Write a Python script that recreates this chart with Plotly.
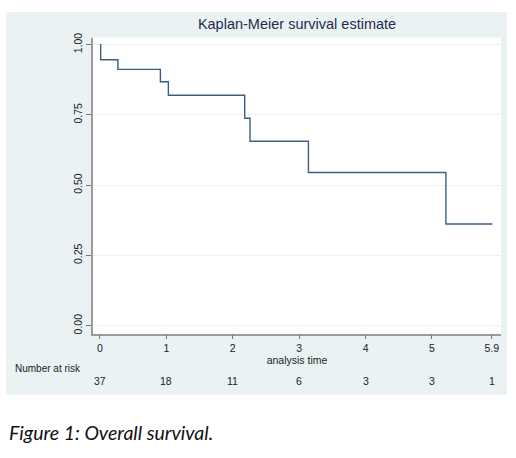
import plotly.graph_objects as go

# Kaplan-Meier step points (time, survival)
times = [0, 0.01, 0.27, 0.91, 1.03, 2.18, 2.26, 3.14, 5.21, 5.91]
surv = [1.0, 0.946, 0.912, 0.868, 0.820, 0.738, 0.656, 0.545, 0.362, 0.362]

x_ticks = [0, 1, 2, 3, 4, 5, 5.9]
x_labels = ["0", "1", "2", "3", "4", "5", "5.9"]
y_ticks = [0, 0.25, 0.5, 0.75, 1.0]
y_labels = ["0.00", "0.25", "0.50", "0.75", "1.00"]

risk_times = [0, 1, 2, 3, 4, 5, 5.9]
at_risk = [37, 18, 11, 6, 3, 3, 1]

W, H = 516, 458
bg = "#eaf2f3"
font = "Liberation Sans"
xdom = [93/W, 501/W]
ydom = [1-333/H, 1-33/H]

fig = go.Figure()
fig.add_trace(go.Scatter(x=times, y=surv, mode="lines", line_shape="hv",
                         line=dict(color="#3a5f82", width=1.4), showlegend=False))

# stata-style grey-blue panel behind the graph, white plot region on top of it
fig.add_shape(type="rect", xref="paper", yref="paper", x0=6/W, x1=507/W,
              y0=1-395/H, y1=1-7/H, fillcolor=bg, line_width=0, layer="below")
fig.add_shape(type="rect", xref="paper", yref="paper", x0=xdom[0], x1=xdom[1],
              y0=ydom[0], y1=ydom[1], fillcolor="white", line_width=0, layer="below")

fig.add_annotation(text="Number at risk", xref="paper", yref="paper", x=13/W, y=1-368/H,
                   xanchor="left", yanchor="middle", showarrow=False,
                   font=dict(family=font, size=10, color="#222"))
for t, n in zip(risk_times, at_risk):
    fig.add_annotation(text=str(n), xref="x", yref="paper", x=t, y=1-381/H,
                       xanchor="center", yanchor="middle", showarrow=False,
                       font=dict(family=font, size=10.5, color="#222"))

fig.add_annotation(text="<i>Figure 1: Overall survival.</i>", xref="paper", yref="paper",
                   x=7/W, y=1-433/H, xanchor="left", yanchor="middle", showarrow=False,
                   font=dict(family="Lato", size=19.5, color="#111"))

fig.update_layout(
    width=W, height=H,
    margin=dict(l=0, r=0, t=0, b=0),
    paper_bgcolor="white", plot_bgcolor="white",
    title=dict(text="Kaplan-Meier survival estimate", x=297/W, y=1-24/H,
               xanchor="center", yanchor="middle",
               font=dict(family=font, size=14.5, color="#1e2d4a")),
    font=dict(family=font, size=10.5, color="#222"),
    xaxis=dict(domain=xdom, range=[-0.105, 6.04], tickvals=x_ticks, ticktext=x_labels,
               showgrid=False, zeroline=False, showline=True, linecolor="#9a9a9a", linewidth=1.5,
               ticks="outside", ticklen=4, tickcolor="#777",
               title=dict(text="analysis time", standoff=0, font=dict(size=10.5))),
    yaxis=dict(domain=ydom, range=[-0.028, 1.025], tickvals=y_ticks, ticktext=y_labels,
               tickangle=-90, showgrid=True, gridcolor=bg, gridwidth=1, zeroline=False,
               showline=True, linecolor="#9a9a9a", linewidth=1.5,
               ticks="outside", ticklen=5, tickcolor="#777"),
)

fig.write_html("out.html", config={"displayModeBar": False},
               post_script="document.body.style.margin='0';")
